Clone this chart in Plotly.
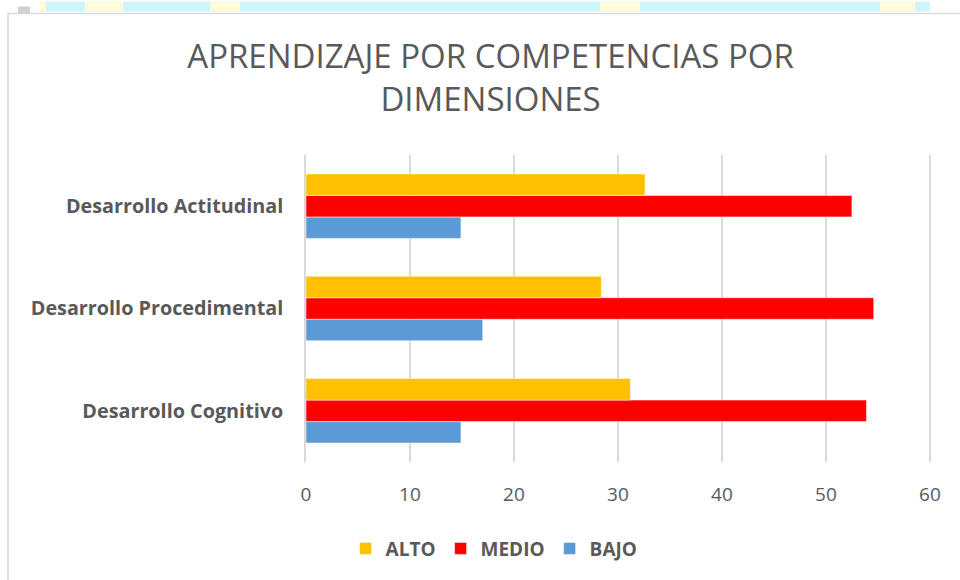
import plotly.graph_objects as go

# data (percentages)
dimensiones = ['Desarrollo Cognitivo', 'Desarrollo Procedimental', 'Desarrollo Actitudinal']
alto = [31.2, 28.4, 32.6]
medio = [53.9, 54.6, 52.5]
bajo = [14.9, 17.0, 14.9]

x_ticks = [0, 10, 20, 30, 40, 50, 60]

GRAY = '#595959'
FONT = 'Open Sans'
M_L, M_R, M_T, M_B = 306, 27, 155, 115

fig = go.Figure()

# plotly stacks grouped horizontal bars from the bottom up, so BAJO goes first
for name, vals, color in [('BAJO', bajo, '#5b9bd5'),
                          ('MEDIO', medio, '#ff0000'),
                          ('ALTO', alto, '#ffc000')]:
    fig.add_trace(go.Bar(
        y=dimensiones,
        x=vals,
        name=name,
        orientation='h',
        marker=dict(color=color, line=dict(color='rgba(255,255,255,0.5)', width=1)),
    ))

fig.update_layout(
    width=960,
    height=580,
    paper_bgcolor='white',
    plot_bgcolor='white',
    margin=dict(l=M_L, r=M_R, t=M_T, b=M_B),
    barmode='group',
    bargap=0.37,
    bargroupgap=0,
    title=dict(
        text='APRENDIZAJE POR COMPETENCIAS POR<br>DIMENSIONES',
        x=0.511,
        xanchor='center',
        y=0.883,
        yanchor='top',
        font=dict(family=FONT, size=33, color=GRAY),
    ),
    legend=dict(
        orientation='h',
        x=0.30,
        xanchor='center',
        y=-0.22,
        yanchor='top',
        traceorder='reversed',
        font=dict(family=FONT, size=19, color=GRAY, weight='bold'),
        itemwidth=30,
    ),
    xaxis=dict(
        range=[0, 60.3],
        tickvals=x_ticks,
        automargin=False,
        showgrid=True,
        gridcolor='#d9d9d9',
        gridwidth=1.5,
        zeroline=False,
        showline=False,
        ticklabelstandoff=19,
        tickfont=dict(family=FONT, size=19, color=GRAY),
    ),
    yaxis=dict(
        automargin=False,
        showgrid=False,
        showline=True,
        linecolor='#d9d9d9',
        linewidth=1.5,
        ticklabelstandoff=17,
        tickfont=dict(family=FONT, size=19.8, color=GRAY, weight='bold'),
    ),
)

# chart frame and the coloured strip of the scanned page above it
px_w, px_h = 960 - M_L - M_R, 580 - M_T - M_B


def px(xp, yp):
    return (xp - M_L) / px_w, (580 - M_B - yp) / px_h


x0, y0 = px(8, 12)
x1, y1 = px(975, 595)
fig.add_shape(type='rect', xref='paper', yref='paper', x0=x0, y0=y0, x1=x1, y1=y1,
              line=dict(color='#d9d9d9', width=1.5), fillcolor='rgba(0,0,0,0)', layer='below')
for a, b, c in [(40, 930, '#ccf5fc'), (40, 46, '#fffbd6'), (85, 123, '#fffbd6'),
                (210, 240, '#fffbd6'), (600, 640, '#fffbd6'), (880, 915, '#fffbd6')]:
    xa, ya = px(a, 0)
    xb, yb = px(b, 10)
    fig.add_shape(type='rect', xref='paper', yref='paper', x0=xa, y0=ya, x1=xb, y1=yb,
                  line=dict(width=0), fillcolor=c, layer='below')
xa, ya = px(18, 5)
xb, yb = px(30, 12)
fig.add_shape(type='rect', xref='paper', yref='paper', x0=xa, y0=ya, x1=xb, y1=yb,
              line=dict(width=0), fillcolor='#d0d0d0', layer='below')

# drop the default body margin so the figure sits at the window's corner
fig.write_html('out.html', config={'displayModeBar': False},
               post_script="document.body.style.margin='0';")
